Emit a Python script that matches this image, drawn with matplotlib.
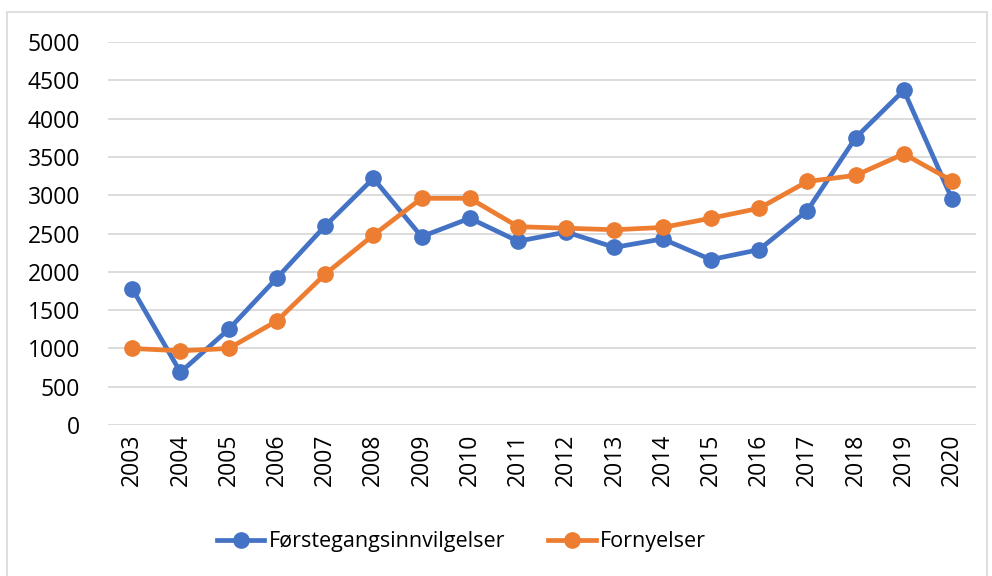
import matplotlib
matplotlib.use('Agg')
import matplotlib.pyplot as plt
from matplotlib.patches import Rectangle

years = [str(y) for y in range(2003, 2021)]
forstegang = [1780, 690, 1250, 1920, 2600, 3220, 2460, 2700, 2400, 2520,
              2320, 2430, 2160, 2290, 2800, 3750, 4370, 2950]
fornyelser = [1000, 970, 1000, 1360, 1970, 2480, 2960, 2960, 2590, 2570,
              2550, 2580, 2700, 2830, 3180, 3260, 3540, 3190]

plt.rcParams['font.family'] = ['Open Sans', 'DejaVu Sans']

fig = plt.figure(figsize=(9.92, 5.76), dpi=100)
ax = fig.add_axes([0.109, 0.262, 0.875, 0.665])

# outer chart frame
fig.patches.append(Rectangle((7 / 992, -0.01), 980 / 992, 1 - 12 / 576 + 0.01,
                             transform=fig.transFigure, fill=False,
                             edgecolor='#D9D9D9', lw=1.2))

x = range(len(years))
ax.plot(x, forstegang, color='#4472C4', lw=3.4, marker='o', ms=11,
        label='Førstegangsinnvilgelser', zorder=3)
ax.plot(x, fornyelser, color='#ED7D31', lw=3.4, marker='o', ms=11,
        label='Fornyelser', zorder=4)

ax.set_xlim(-0.5, len(years) - 0.5)
ax.set_ylim(0, 5000)
ax.set_yticks(range(0, 5001, 500))
ax.set_xticks(list(x))
ax.set_xticklabels(years, rotation=90)
ax.tick_params(axis='both', length=0, labelsize=16.5, colors='black')
ax.tick_params(axis='y', pad=20)
ax.tick_params(axis='x', pad=6)
ax.grid(axis='y', color='#D9D9D9', lw=1.3)
ax.set_axisbelow(True)
for s in ax.spines.values():
    s.set_visible(False)

ax.legend(loc='center', bbox_to_anchor=(0.407, -0.305), ncol=2, frameon=False,
          fontsize=15.5, handlelength=2.2, handletextpad=0.2, columnspacing=2.0)

fig.savefig('out.png', dpi=100)
